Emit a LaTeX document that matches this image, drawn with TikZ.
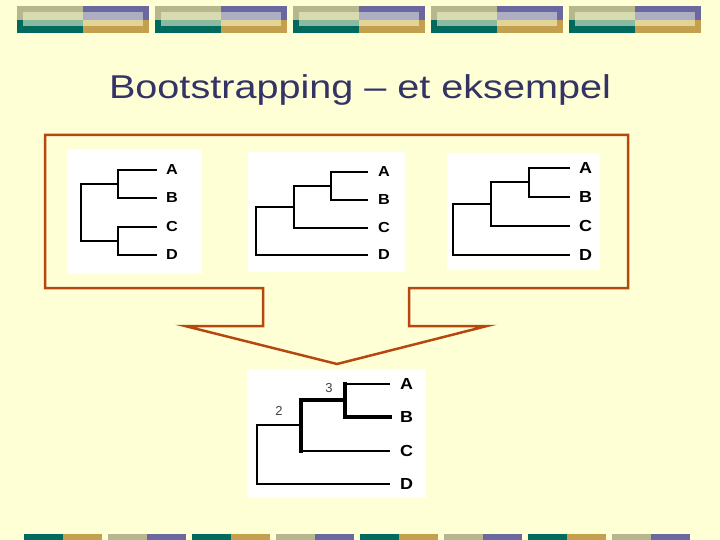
\documentclass[tikz,border=0pt]{standalone}
\usepackage{fontspec}
\setmainfont{Liberation Sans}
\usepackage{tikz}
\usetikzlibrary{positioning}
\definecolor{bgcream}{HTML}{FFFFD6}
\definecolor{titleblue}{HTML}{333366}
\definecolor{framerust}{HTML}{B5470F}
\definecolor{barolive}{HTML}{B7B78E}
\definecolor{barpurple}{HTML}{6A689E}
\definecolor{barteal}{HTML}{006A5F}
\definecolor{bargold}{HTML}{C4A04E}
\definecolor{liteolive}{HTML}{D8DAB0}
\definecolor{litepurple}{HTML}{ADADC4}
\definecolor{liteteal}{HTML}{8ABBA0}
\definecolor{litegold}{HTML}{E2D396}

\begin{document}
\begin{tikzpicture}[
  x=1pt, y=-1pt,
  node distance=9pt,
  panel/.style={fill=white, inner sep=0pt, anchor=north west},
  branch/.style={line width=2.3pt},
  strong/.style={line width=3.4pt, line cap=rect},
  leaf/.style={inner sep=0pt, anchor=west, font=\bfseries\fontsize{14.5}{16}\selectfont, xscale=1.12, transform shape},
  bigleaf/.style={leaf, font=\bfseries\fontsize{16}{18}\selectfont},
  support/.style={inner sep=0pt, text=black!75, font=\fontsize{13}{14}\selectfont},
  arrowframe/.style={draw=framerust, line width=2.5pt, line join=miter}
]

% Slide background
\fill[bgcream] (0,0) rectangle (720,540);

% Header bars
\foreach \i in {0,...,4} {
  \pgfmathsetmacro{\bx}{17+138*\i}
  \fill[barolive] (\bx,6) rectangle ++(66,14);
  \fill[barpurple] (\bx+66,6) rectangle ++(66,14);
  \fill[barteal] (\bx,20) rectangle ++(66,13);
  \fill[bargold] (\bx+66,20) rectangle ++(66,13);
  \fill[liteolive] (\bx+6,12) rectangle ++(60,8);
  \fill[litepurple] (\bx+66,12) rectangle ++(60,8);
  \fill[liteteal] (\bx+6,20) rectangle ++(60,6);
  \fill[litegold] (\bx+66,20) rectangle ++(60,6);
}

% Footer bars
\foreach \x in {24,192,360,528} {
  \fill[barteal] (\x,534) rectangle ++(39,6);
  \fill[bargold] (\x+39,534) rectangle ++(39,6);
}
\foreach \x in {108,276,444,612} {
  \fill[barolive] (\x,534) rectangle ++(39,6);
  \fill[barpurple] (\x+39,534) rectangle ++(39,6);
}

% Title
\node[anchor=base, text=titleblue, font=\fontsize{33}{38}\selectfont, xscale=1.2, transform shape] (title) at (360,99) {Bootstrapping -- et eksempel};

% Frame with the arrow
\draw[arrowframe] (45,135) -- (628,135) -- (628,288) -- (409,288) -- (409,326) -- (487,326)
  -- (337,364) -- (185,326) -- (263,326) -- (263,288) -- (45,288) -- cycle;

% White panels
\node[panel, minimum width=135, minimum height=125] (p1) at (67,149) {};
\node[panel, minimum width=157, minimum height=120] (p2) at (248,152) {};
\node[panel, minimum width=153, minimum height=117] (p3) at (447,153) {};
\node[panel, minimum width=179, minimum height=129] (p4) at (247,369) {};

% Tree 1: ((A,B),(C,D))
\foreach \l/\y in {A/170,B/198,C/227,D/255} {
  \coordinate (t1\l) at (157,\y);
  \node[leaf] (l1\l) at ([xshift=9pt]t1\l) {\l};
}
\coordinate (t1ab) at (118,184);
\coordinate (t1cd) at (118,241);
\coordinate (t1r) at (81,212);
\draw[branch] (t1A) -| (t1ab) |- (t1B);
\draw[branch] (t1C) -| (t1cd) |- (t1D);
\draw[branch] (t1ab) -| (t1r) |- (t1cd);

% Tree 2: (((A,B),C),D)
\foreach \l/\y in {A/172,B/200,C/228,D/255} {
  \coordinate (t2\l) at (368,\y);
  \node[leaf] (l2\l) at ([xshift=10pt]t2\l) {\l};
}
\coordinate (t2ab) at (331,186);
\coordinate (t2abc) at (294,207);
\coordinate (t2r) at (256,231);
\draw[branch] (t2A) -| (t2ab) |- (t2B);
\draw[branch] (t2ab) -| (t2abc) |- (t2C);
\draw[branch] (t2abc) -| (t2r) |- (t2D);

% Tree 3: (((A,B),C),D)
\foreach \l/\y in {A/168,B/197,C/226,D/255} {
  \coordinate (t3\l) at (570,\y);
  \node[bigleaf] (l3\l) at ([xshift=9pt]t3\l) {\l};
}
\coordinate (t3ab) at (529,182);
\coordinate (t3abc) at (491,204);
\coordinate (t3r) at (453,230);
\draw[branch] (t3A) -| (t3ab) |- (t3B);
\draw[branch] (t3ab) -| (t3abc) |- (t3C);
\draw[branch] (t3abc) -| (t3r) |- (t3D);

% Consensus tree
\foreach \l/\y in {A/384,B/417,C/451,D/484} {
  \coordinate (t4\l) at (390,\y);
  \node[bigleaf] (l4\l) at ([xshift=10pt]t4\l) {\l};
}
\coordinate (t4ab) at (345,400);
\coordinate (t4abc) at (301,425);
\coordinate (t4r) at (257,455);
\draw[branch] (t4A) -- (t4A -| t4ab);
\draw[strong] (t4A -| t4ab) |- (t4B);
\draw[strong] (t4ab) -| (t4abc) -- (t4abc |- t4C);
\draw[branch] (t4abc |- t4C) -- (t4C);
\draw[branch] (t4abc) -| (t4r) |- (t4D);
\node[support] (n3) at (329,388) {3};
\node[support] (n2) at (279,411) {2};

\end{tikzpicture}
\end{document}
